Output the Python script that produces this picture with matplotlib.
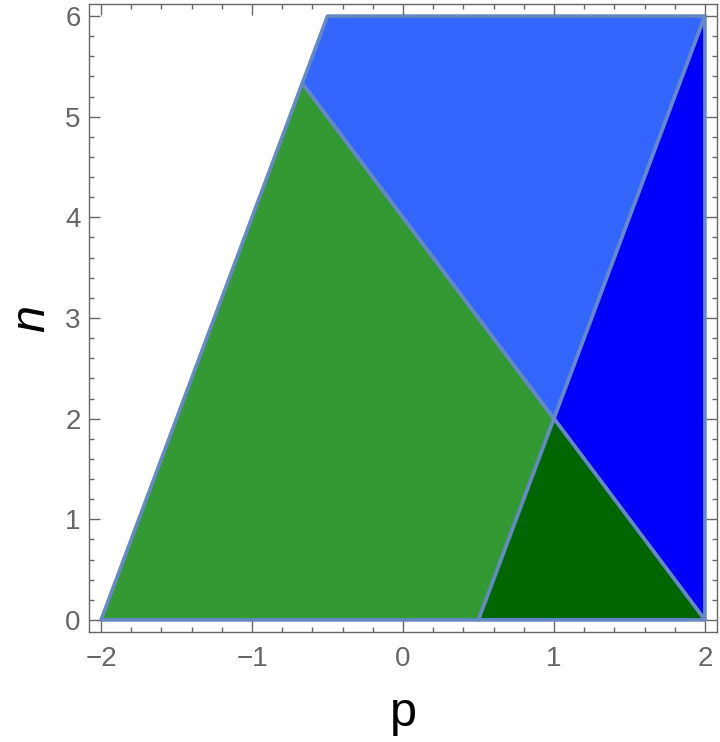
import numpy as np
import matplotlib
matplotlib.use("Agg")
import matplotlib.pyplot as plt
from matplotlib.patches import Polygon
from matplotlib.ticker import MultipleLocator, FuncFormatter

plt.rcParams['font.family'] = ['Liberation Sans', 'DejaVu Sans']

# region vertices (p, n)
green_region = [(-2, 0), (0.5, 0), (1, 2), (-2/3, 16/3)]
lightblue_region = [(-2/3, 16/3), (1, 2), (2, 6), (-0.5, 6)]
blue_region = [(1, 2), (2, 0), (2, 6)]
darkgreen_region = [(0.5, 0), (2, 0), (1, 2)]

regions = [green_region, lightblue_region, blue_region, darkgreen_region]
colors = ['#339933', '#3366ff', '#0000ff', '#006600']
edge = '#6589c4'

fig = plt.figure(figsize=(7.2, 7.42), dpi=100)
ax = fig.add_axes([89/720, 1 - 632/742, (717-89)/720, (632-4)/742])

for reg, c in zip(regions, colors):
    ax.add_patch(Polygon(np.array(reg), closed=True, facecolor=c, edgecolor=edge,
                         linewidth=2.6, joinstyle='round'))

ax.set_xlim(-2.08, 2.08)
ax.set_ylim(-0.12, 6.12)

ax.xaxis.set_major_locator(MultipleLocator(1))
ax.xaxis.set_minor_locator(MultipleLocator(0.2))
ax.yaxis.set_major_locator(MultipleLocator(1))
ax.yaxis.set_minor_locator(MultipleLocator(0.2))

grey = '#666666'
ax.tick_params(which='both', direction='in', top=True, right=True, colors=grey,
               labelcolor=grey, labelsize=20, width=1)
ax.tick_params(which='major', length=8)
ax.tick_params(which='minor', length=3.5)
ax.tick_params(axis='x', pad=10)
ax.tick_params(axis='y', pad=6)
ax.xaxis.set_major_formatter(FuncFormatter(lambda v, _: f"{int(round(v))}".replace('-', '\u2212')))
ax.yaxis.set_major_formatter(FuncFormatter(lambda v, _: f"{int(round(v))}"))
for s in ax.spines.values():
    s.set_color(grey)
    s.set_linewidth(1)

ax.set_xlabel('p', fontsize=35, color='black', labelpad=14)
ax.set_ylabel('n', fontsize=35, color='black', style='italic', labelpad=8)

fig.savefig('out.png', dpi=100)
